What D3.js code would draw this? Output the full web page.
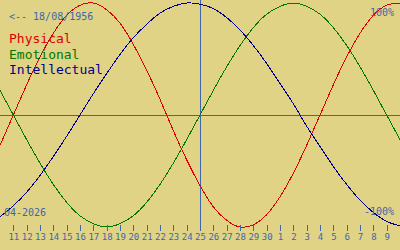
<!DOCTYPE html>
<html>
<head>
<meta charset="utf-8">
<script src="https://cdn.jsdelivr.net/npm/d3@7"></script>
<style>
  html, body { margin:0; padding:0; background:#e1d385; }
  .chartWrap { width:400px; height:250px; overflow:hidden; }
  text { font-family:'DejaVu Sans Mono', monospace; }
</style>
</head>
<body>
<div class="chartWrap"></div>
<script>
// days around the reference date (0 = 25-04-2026)
var dayOffsets = d3.range(-15, 16);
var dayLabels = ['11','12','13','14','15','16','17','18','19','20','21','22','23','24','25','26','27','28','29','30','1','2','3','4','5','6','7','8','9'];

// cycle values in %, one per day from offset -15 to +15
var physical = [-27, 0, 27, 52, 73, 89, 98, 100, 94, 82, 63, 40, 14, -14, -40, -63, -82, -94, -100, -98, -89, -73, -52, -27, 0, 27, 52, 73, 89, 98, 100];
var emotional = [22, 0, -22, -43, -62, -78, -90, -97, -100, -97, -90, -78, -62, -43, -22, 0, 22, 43, 62, 78, 90, 97, 100, 97, 90, 78, 62, 43, 22, 0, -22];
var intellectual = [-91, -81, -69, -54, -37, -19, 0, 19, 37, 54, 69, 81, 91, 97, 100, 99, 95, 87, 76, 62, 46, 28, 10, -10, -28, -46, -62, -76, -87, -95, -99];

var seriesNames = ['Physical', 'Emotional', 'Intellectual'];
var birthLabel = '<-- 18/08/1956';
var dateLabel = '04-2026';

biorhythm = {

  init: function(){
    self = this;
    self.width = 400;
    self.height = 250;
    self.axisColor = '#3d66ad';
    self.colors = ['#dc0000', '#007800', '#00008c'];
    self.series = [physical, emotional, intellectual];

    self.x = d3.scaleLinear().domain([-15, 15]).range([0, self.width]);
    self.y = d3.scaleLinear().domain([-100, 100]).range([227, 3]);

    self.svg = d3.select('.chartWrap')
      .append('svg')
      .attr('width', self.width)
      .attr('height', self.height);

    self.svg.append('rect')
      .attr('width', self.width)
      .attr('height', self.height)
      .style('fill', '#e1d385');

    self.drawGuides();
    self.drawCurves();
    self.drawAxis();
    self.drawTexts();
  },

  drawGuides: function(){
    self.svg.append('line')
      .attr('x1', 0).attr('x2', self.width)
      .attr('y1', self.y(0) + 0.5).attr('y2', self.y(0) + 0.5)
      .style('stroke', self.axisColor)
      .style('shape-rendering', 'crispEdges');

    self.svg.append('line')
      .attr('x1', self.x(0) + 0.5).attr('x2', self.x(0) + 0.5)
      .attr('y1', 0).attr('y2', 231)
      .style('stroke', self.axisColor)
      .style('shape-rendering', 'crispEdges');
  },

  drawCurves: function(){
    var line = d3.line()
      .x(function(d, i){ return self.x(dayOffsets[i]); })
      .y(function(d){ return self.y(d); })
      .curve(d3.curveNatural);

    self.svg.selectAll('.cycle')
      .data(self.series)
      .enter()
        .append('path')
        .attr('class', 'cycle')
        .attr('d', line)
        .style('fill', 'none')
        .style('stroke', function(d, i){ return self.colors[i]; })
        .style('stroke-width', 1)
        .style('shape-rendering', 'crispEdges');
  },

  drawAxis: function(){
    var ticks = dayOffsets.slice(1, -1);
    var axis = d3.axisBottom(self.x)
      .tickValues(ticks)
      .tickFormat(function(d, i){ return dayLabels[i]; })
      .tickSize(6)
      .tickPadding(3);

    var g = self.svg.append('g')
      .attr('transform', 'translate(0,225)')
      .call(axis);

    g.select('.domain').remove();
    g.selectAll('line').attr('stroke', self.axisColor).style('shape-rendering', 'crispEdges');
    g.selectAll('text')
      .attr('fill', self.axisColor)
      .style('font-family', "'DejaVu Sans Mono', monospace")
      .style('font-size', '9px');
  },

  drawTexts: function(){
    self.svg.append('text')
      .text(birthLabel)
      .attr('x', 9).attr('y', 20)
      .style('font-size', '10px')
      .style('fill', self.axisColor);

    self.svg.selectAll('.legendText')
      .data(seriesNames)
      .enter()
        .append('text')
        .attr('class', 'legendText')
        .text(function(d){ return d; })
        .attr('x', 9)
        .attr('y', function(d, i){ return 43 + i * 15.5; })
        .style('font-size', '13px')
        .style('fill', function(d, i){ return self.colors[i]; });

    self.svg.append('text')
      .text('100%')
      .attr('x', 394).attr('y', 16)
      .attr('text-anchor', 'end')
      .style('font-size', '10px')
      .style('fill', self.axisColor);

    self.svg.append('text')
      .text('-100%')
      .attr('x', 394).attr('y', 215)
      .attr('text-anchor', 'end')
      .style('font-size', '10px')
      .style('fill', self.axisColor);

    self.svg.append('text')
      .text(dateLabel)
      .attr('x', 4).attr('y', 216)
      .style('font-size', '10px')
      .style('fill', self.axisColor);
  }

};

biorhythm.init();
</script>
</body>
</html>
